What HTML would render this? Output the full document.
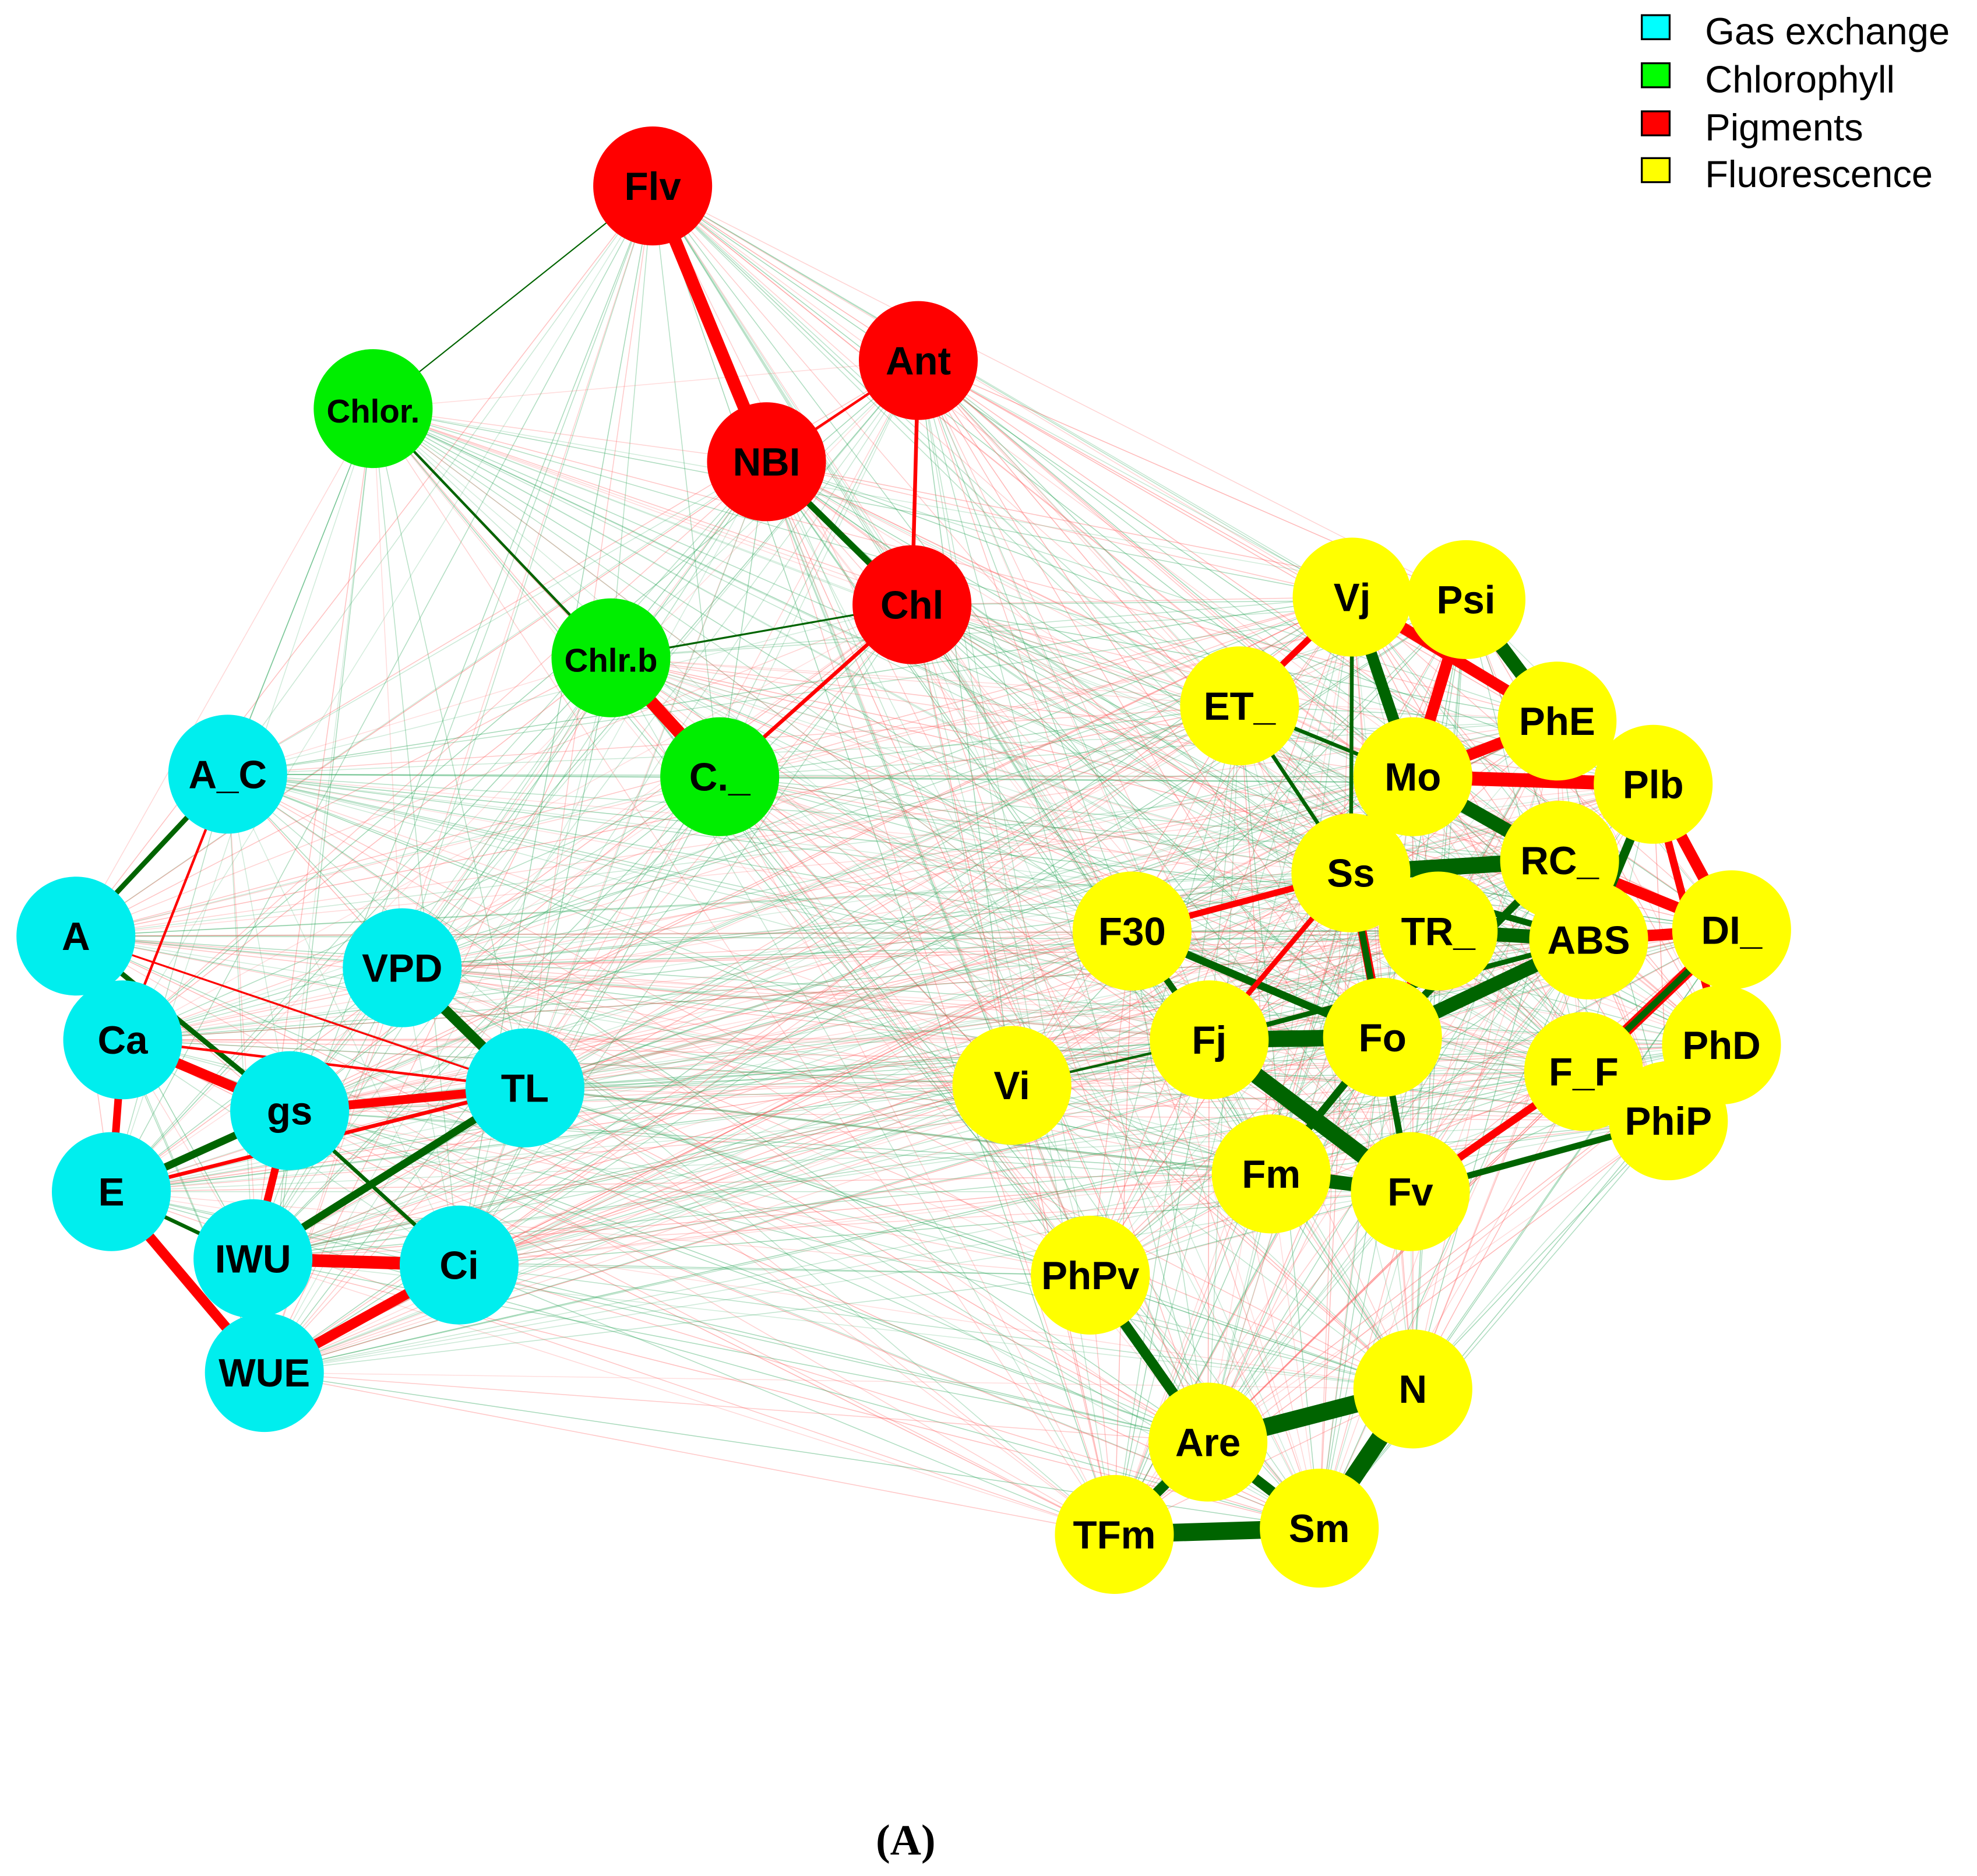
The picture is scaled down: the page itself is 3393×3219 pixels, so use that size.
<!DOCTYPE html>
<html><head><meta charset="utf-8"><style>
html,body{margin:0;padding:0;background:#fff;}
svg{display:block;}
</style></head><body>
<svg id="s" width="3393" height="3219" viewBox="0 0 1563 1483" preserveAspectRatio="none" xmlns="http://www.w3.org/2000/svg">
<g id="faint"></g><g id="strong"></g><g id="nodes"></g>
<g font-family="Liberation Sans, sans-serif" font-size="30" fill="#000">
<rect x="1298" y="12" width="22" height="19" fill="#00ffff" stroke="#000" stroke-width="1.5"/>
<text x="1348" y="35">Gas exchange</text>
<rect x="1298" y="50" width="22" height="19" fill="#00ff00" stroke="#000" stroke-width="1.5"/>
<text x="1348" y="73">Chlorophyll</text>
<rect x="1298" y="88" width="22" height="19" fill="#ff0000" stroke="#000" stroke-width="1.5"/>
<text x="1348" y="111">Pigments</text>
<rect x="1298" y="125" width="22" height="19" fill="#ffff00" stroke="#000" stroke-width="1.5"/>
<text x="1348" y="148">Fluorescence</text>
</g>
<text x="716" y="1466" font-family="Liberation Serif, serif" font-weight="bold" font-size="34" text-anchor="middle">(A)</text>
</svg>
<script>
var N={Flv:[516,147,'r'],Ant:[726,285,'r'],NBI:[606,365,'r'],Chl:[721,478,'r'],
'Chlor.':[295,323,'g'],'Chlr.b':[483,520,'g'],'C._':[569,614,'g'],
A_C:[180,612,'c'],A:[60,740,'c'],Ca:[97,822,'c'],VPD:[318,765,'c'],gs:[229,878,'c'],TL:[415,860,'c'],E:[88,942,'c'],IWU:[200,995,'c'],Ci:[363,1000,'c'],WUE:[209,1085,'c'],
Vj:[1069,472,'y'],Psi:[1159,474,'y'],ET_:[980,558,'y'],PhE:[1231,570,'y'],Mo:[1117,614,'y'],Plb:[1307,620,'y'],Ss:[1068,690,'y'],RC_:[1233,680,'y'],TR_:[1137,736,'y'],ABS:[1256,743,'y'],DI_:[1369,735,'y'],F30:[895,736,'y'],Fj:[956,822,'y'],Fo:[1093,820,'y'],PhD:[1361,826,'y'],F_F:[1252,847,'y'],PhiP:[1319,886,'y'],Vi:[800,858,'y'],Fm:[1005,928,'y'],Fv:[1115,942,'y'],PhPv:[862,1008,'y'],N:[1117,1098,'y'],Are:[955,1140,'y'],Sm:[1043,1208,'y'],TFm:[881,1213,'y']};
var col={r:'#ff0000',g:'#00ee00',c:'#00eeee',y:'#ffff00'};
var ns='http://www.w3.org/2000/svg';
function line(g,a,b,c,w,o){var l=document.createElementNS(ns,'line');l.setAttribute('x1',N[a][0]);l.setAttribute('y1',N[a][1]);l.setAttribute('x2',N[b][0]);l.setAttribute('y2',N[b][1]);l.setAttribute('stroke',c);l.setAttribute('stroke-width',w);if(o)l.setAttribute('stroke-opacity',o);g.appendChild(l);}
var keys=Object.keys(N),f=document.getElementById('faint'),seed=7;
function rnd(){seed=(seed*16807)%2147483647;return seed/2147483647;}
for(var i=0;i<keys.length;i++)for(var j=i+1;j<keys.length;j++){var r=rnd();line(f,keys[i],keys[j],r<0.5?'#ff5050':'#20a050',0.7,0.18+0.25*rnd());}
var R='#ff0000',G='#006400',s=document.getElementById('strong');
var E=[['Flv','NBI',R,10],['NBI','Ant',R,2],['Ant','Chl',R,3],['Chl','C._',R,3],['Chlr.b','C._',R,10],['NBI','Chl',G,5],['Chlor.','Chlr.b',G,2],['Chlr.b','Chl',G,1.5],['Flv','Chlor.',G,1],
['A_C','A',G,4],['A','Ca',G,3],['Ca','gs',R,8],['Ca','E',R,6],['gs','TL',R,7],['gs','E',G,6],['gs','IWU',R,6],['E','IWU',G,3],['E','WUE',R,8],['IWU','Ci',R,10],['WUE','Ci',R,8],['IWU','TL',G,6],['VPD','TL',G,8],['A','gs',G,4],['A_C','Ca',R,2],['Ci','gs',G,3],['E','TL',R,3],['IWU','WUE',R,3],['Ca','TL',R,2],['A','TL',R,1.5],
['Vj','Mo',G,9],['Psi','PhE',G,11],['Psi','Mo',R,9],['Vj','PhE',R,9],['Mo','Plb',R,11],['Mo','RC_',G,11],['Ss','RC_',G,13],['RC_','ABS',G,11],['TR_','ABS',G,11],['Ss','TR_',G,7],['Mo','Ss',G,9],['ABS','DI_',R,9],['RC_','DI_',R,9],['Plb','DI_',R,9],['DI_','PhD',R,11],['F_F','DI_',R,9],['Fo','ABS',G,11],['Fj','Fo',G,13],['Fj','Fv',G,13],['F30','Ss',R,5],['F30','Fo',G,6],['Fo','Fm',G,6],['Fm','Fv',G,11],['Fv','F_F',R,6],['Fv','PhiP',G,5],['Fo','Ss',R,7],['ET_','Vj',R,5],['ET_','Mo',G,3],['PhPv','Are',G,8],['Are','N',G,14],['Are','Sm',G,8],['N','Sm',G,14],['TFm','Sm',G,14],['TFm','Are',G,8],['Fv','Ss',G,5],['Fj','Ss',R,4],['F30','Fj',G,5],['Vi','Fj',G,2],['Plb','ABS',G,7],['PhE','Mo',R,9],['Fo','RC_',G,6],['Fo','TR_',R,6],['Ss','ABS',G,5],['Fj','ABS',G,4],['DI_','F_F',G,5],['Plb','PhD',R,6],['ET_','Ss',G,3],['Vj','Ss',G,3]];
E.forEach(function(e){line(s,e[0],e[1],e[2],e[3]);});
var g=document.getElementById('nodes');
keys.forEach(function(k){var c=document.createElementNS(ns,'circle');c.setAttribute('cx',N[k][0]);c.setAttribute('cy',N[k][1]);c.setAttribute('r',47);c.setAttribute('fill',col[N[k][2]]);g.appendChild(c);});
keys.forEach(function(k){var t=document.createElementNS(ns,'text');t.setAttribute('x',N[k][0]);t.setAttribute('y',N[k][1]+11);t.setAttribute('text-anchor','middle');t.setAttribute('font-family','Liberation Sans, sans-serif');t.setAttribute('font-weight','bold');var fs=(k=='Chlor.'||k=='Chlr.b')?26:31;t.setAttribute('font-size',fs);t.textContent=k;g.appendChild(t);});
</script>
</body></html>
